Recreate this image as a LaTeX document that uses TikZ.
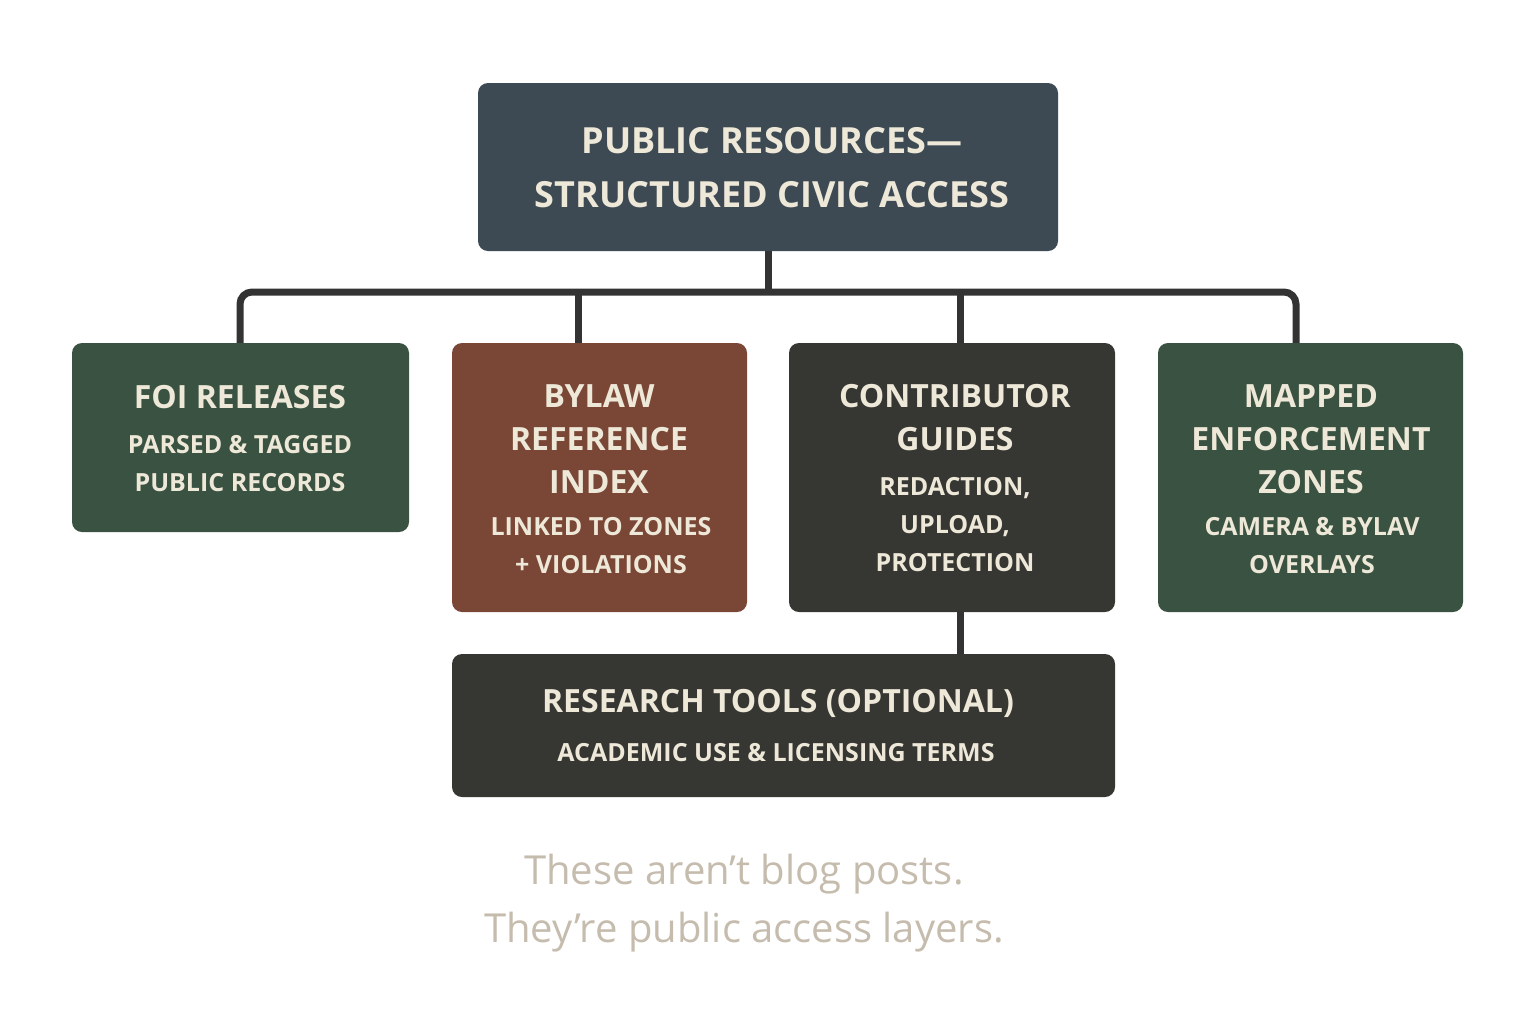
\documentclass[tikz,border=0pt]{standalone}
\usepackage{fontspec}
\setmainfont{Open Sans}
\definecolor{slate}{HTML}{3E4A53}
\definecolor{forest}{HTML}{3A5241}
\definecolor{rust}{HTML}{7A4636}
\definecolor{charcoal}{HTML}{363633}
\definecolor{txt}{HTML}{EEE8D8}
\definecolor{wire}{HTML}{333333}
\definecolor{grey}{HTML}{C5BCAE}
\begin{document}
\begin{tikzpicture}[x=0.5pt,y=-0.5pt,
  box/.style={draw=none,rounded corners=5pt},
  head/.style={text=txt,font=\bfseries\fontsize{16}{20}\selectfont,align=center},
  sub/.style={text=txt,font=\bfseries\fontsize{12.5}{19}\selectfont,align=center},
  wireline/.style={draw=wire,line width=3.5pt,rounded corners=6pt}]
\useasboundingbox (0,0) rectangle (1536,1024);
% connectors
\coordinate (hl) at (240,292); \coordinate (hr) at (1296,292);
\draw[wireline] (768,251) -- (768,292);
\draw[wireline] (240,345) -- (hl) -- (hr) -- (1296,345);
\draw[wireline] (578,292) -- (578,345);
\draw[wireline] (960,292) -- (960,345);
\draw[wireline] (960,610) -- (960,656);
% boxes
\fill[slate,box] (478,83) rectangle (1058,251);
\fill[forest,box] (72,343) rectangle (409,532);
\fill[rust,box] (452,343) rectangle (747,612);
\fill[charcoal,box] (789,343) rectangle (1115,612);
\fill[forest,box] (1158,343) rectangle (1463,612);
\fill[charcoal,box] (452,654) rectangle (1115,797);
% text
\node[head,font=\bfseries\fontsize{18}{27}\selectfont] (t) at (772,168) {PUBLIC RESOURCES—\\STRUCTURED CIVIC ACCESS};
\node[head] (a1) at (240,397) {FOI RELEASES};
\node[sub] (a2) at (240,464) {PARSED \& TAGGED\\PUBLIC RECORDS};
\node[head,font=\bfseries\fontsize{16}{21.5}\selectfont] (b1) at (599,439) {BYLAW\\REFERENCE\\INDEX};
\node[sub] (b2) at (601,546) {LINKED TO ZONES\\+ VIOLATIONS};
\node[head,font=\bfseries\fontsize{16}{21.5}\selectfont] (c1) at (955,418) {CONTRIBUTOR\\GUIDES};
\node[sub] (c2) at (955,525) {REDACTION,\\UPLOAD,\\PROTECTION};
\node[head,font=\bfseries\fontsize{16}{21.5}\selectfont] (d1) at (1311,439) {MAPPED\\ENFORCEMENT\\ZONES};
\node[sub] (d2) at (1312,546) {CAMERA \& BYLAV\\OVERLAYS};
\node[head] (e1) at (778,703) {RESEARCH TOOLS (OPTIONAL)};
\node[sub] (e2) at (776,753) {ACADEMIC USE \& LICENSING TERMS};
\node[text=grey,font=\fontsize{20}{29}\selectfont,align=center] (q) at (744,903) {These aren't blog posts.\\They're public access layers.};
\end{tikzpicture}
\end{document}
